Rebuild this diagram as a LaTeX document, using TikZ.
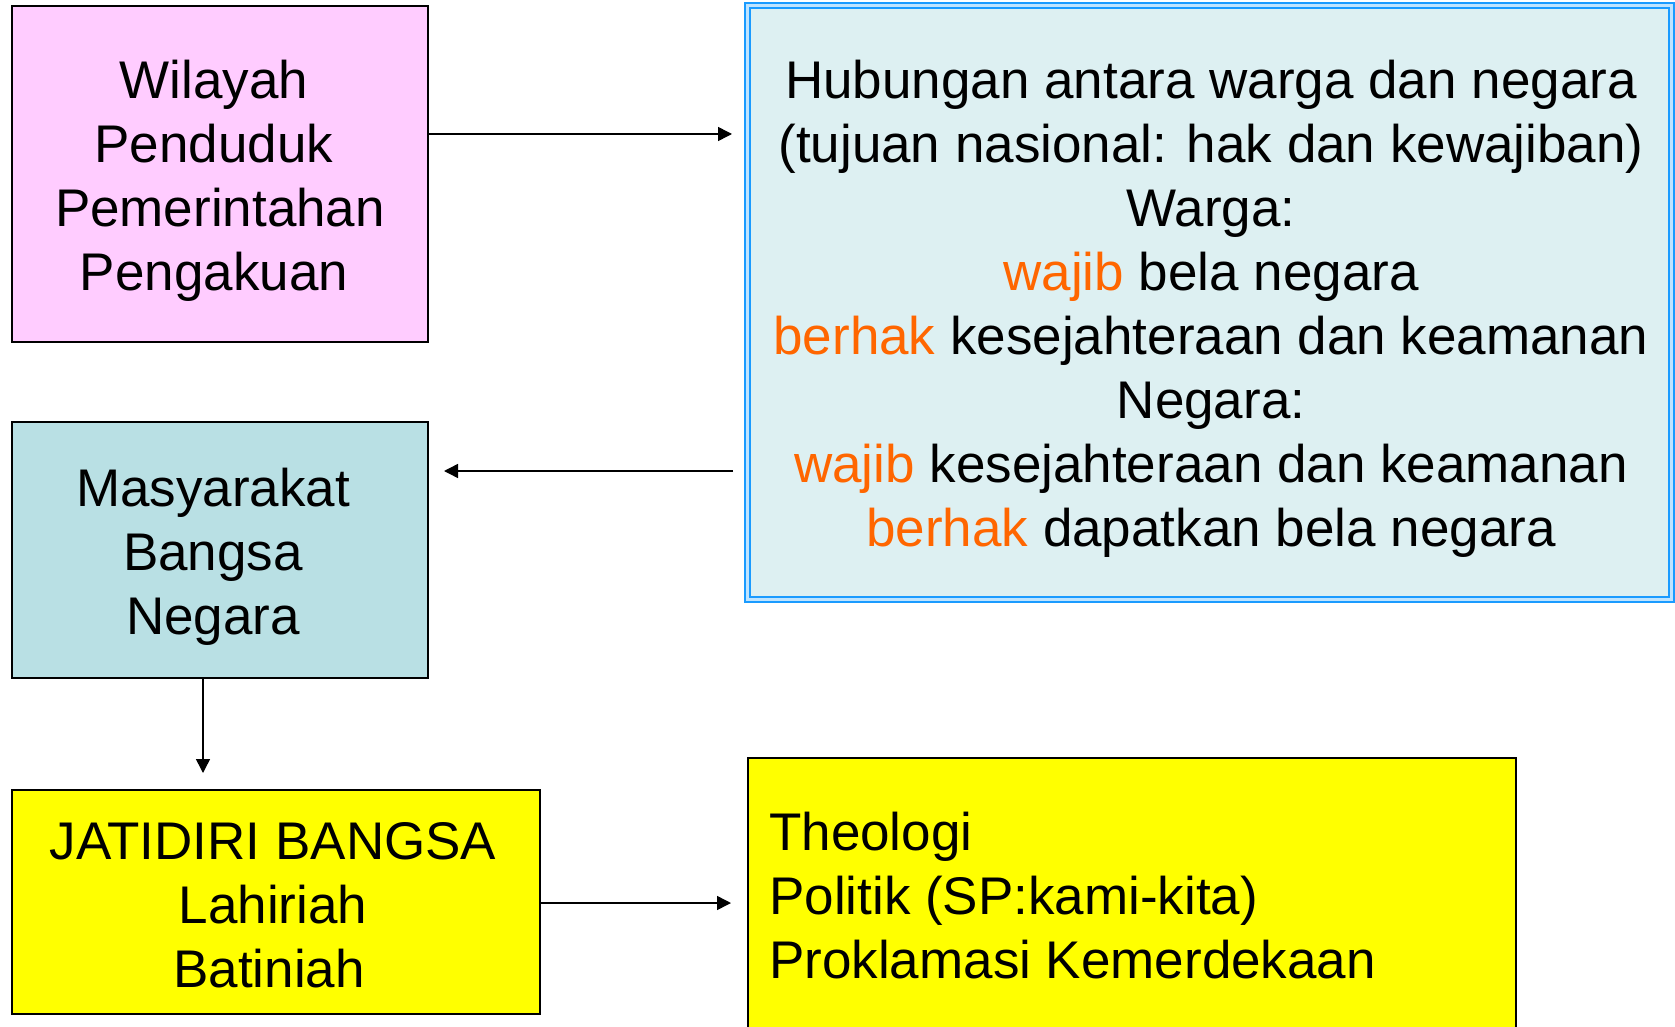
\documentclass[tikz,border=0pt]{standalone}
\usepackage{fontspec}
\setmainfont{Liberation Sans}
\usetikzlibrary{arrows.meta,calc}
\definecolor{pinkfill}{HTML}{FFCCFF}
\definecolor{tealfill}{HTML}{B9E0E4}
\definecolor{bluefill}{HTML}{DDF0F2}
\definecolor{blueline}{HTML}{1A9BFF}
\definecolor{bluegap}{HTML}{BFE4FF}
\definecolor{yel}{HTML}{FFFF00}
\definecolor{orng}{HTML}{FF6600}
\tikzset{
  box/.style={draw=black, line width=1.5pt, inner sep=0pt, outer sep=0pt, align=center,
    font=\fontsize{53}{64}\selectfont},
  conn/.style={line width=1.5pt, -{Triangle[length=14pt,width=14pt]}},
  txt/.style={inner sep=0pt, font=\fontsize{53}{64}\selectfont}
}
\begin{document}
\begin{tikzpicture}[x=1pt,y=-1pt]
\useasboundingbox (0,0) rectangle (1675,1027);
\fill[white] (0,0) rectangle (1675,1027);

\node[box, fill=pinkfill, minimum width=416pt, minimum height=336pt] (pink) at (220,174) {};
\node[txt, align=center] (pinktxt) at (214,181) {Wilayah\\Penduduk\\\hspace*{12pt}Pemerintahan\\Pengakuan};

\node[box, fill=tealfill, minimum width=416pt, minimum height=256pt] (teal) at (220,550) {};
\node[txt, align=center] (tealtxt) at (213,557) {Masyarakat\\Bangsa\\Negara};

\node[box, fill=yel, minimum width=528pt, minimum height=224pt] (yel1) at (276,902) {};
\node[txt, align=center] (yel1txt) at (273,905) {JATIDIRI BANGSA\\Lahiriah\\Batiniah\hspace*{8pt}};

\node[box, fill=yel, minimum width=768pt, minimum height=290pt] (yel2) at (1132,903) {};
\node[txt, align=left, anchor=west] (yel2txt) at (769,896) {Theologi\\Politik (SP:kami-kita)\\Proklamasi Kemerdekaan};

\node[draw=blueline, double=bluegap, double distance=3pt, line width=2pt, fill=bluefill,
  inner sep=0pt, outer sep=0pt, minimum width=924pt, minimum height=594pt] (blue) at (1209.5,302.5) {};
\node[txt, align=center] (bluetxt) at (1211,309) {Hubungan antara warga dan negara\\
(tujuan nasional: hak dan kewajiban)\\
Warga:\\
\textcolor{orng}{wajib} bela negara\\
\textcolor{orng}{berhak} kesejahteraan dan keamanan\\
Negara:\\
\textcolor{orng}{wajib} kesejahteraan dan keamanan\\
\textcolor{orng}{berhak} dapatkan bela negara};

\coordinate (a1e) at (732,134);
\coordinate (a2s) at (733,471);
\coordinate (a2e) at (444,471);
\coordinate (a3e) at (203,773);
\coordinate (a4e) at (731,903);

\draw[conn] (pink.east |- a1e) -- (a1e);
\draw[conn] (a2s) -- (a2e);
\draw[conn] (teal.south -| a3e) -- (a3e);
\draw[conn] (yel1.east |- a4e) -- (a4e);
\end{tikzpicture}
\end{document}
